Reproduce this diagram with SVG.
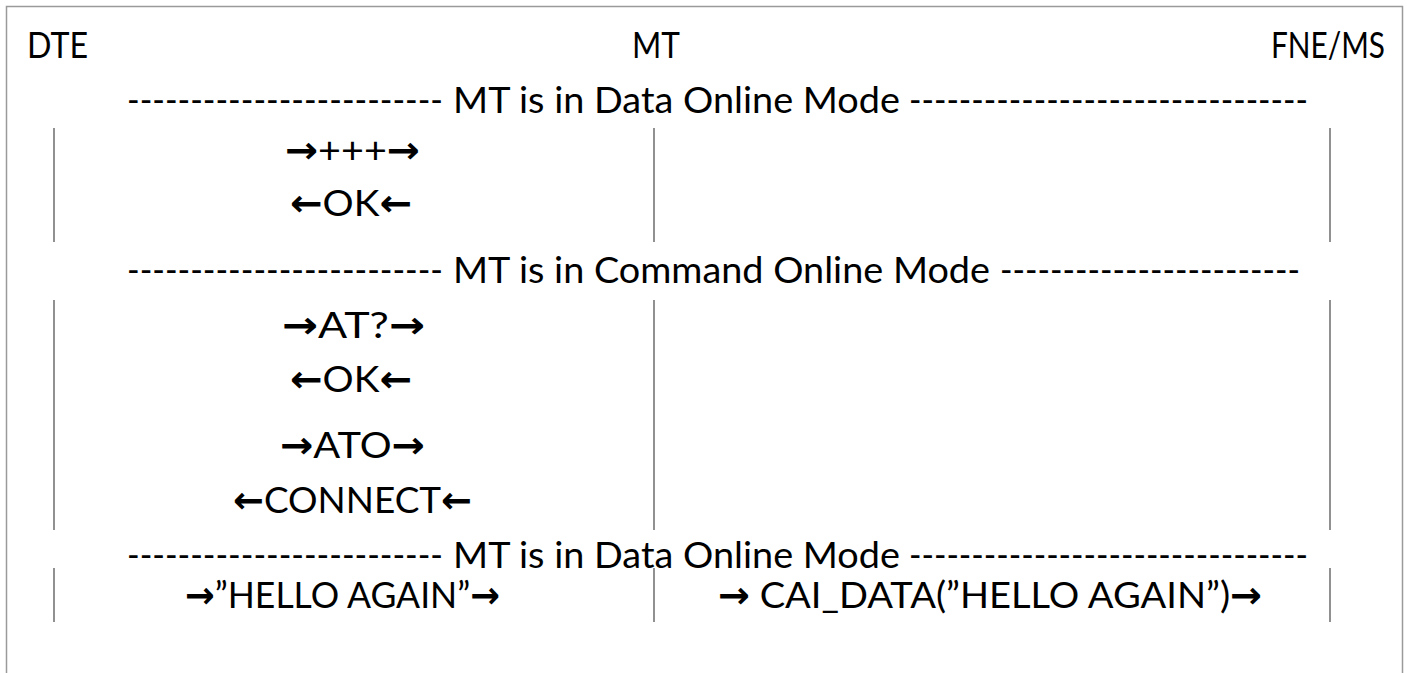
<svg xmlns="http://www.w3.org/2000/svg" width="1407" height="673" viewBox="0 0 1407 673">
  <style>
    .t { font-family: Lato, "Open Sans", "DejaVu Sans", sans-serif; font-size: 37px; fill: #000; }
    .a { font-family: "DejaVu Sans", sans-serif; font-weight: bold; }
    .life { stroke: #555; stroke-width: 1.3; fill: none; }
    .frame { stroke: #9a9a9a; stroke-width: 1.5; fill: #fff; }
  </style>
  <rect class="frame" x="6.5" y="6.5" width="1396" height="700"/>

  <g id="participants">
    <g id="p-dte"><text class="t" x="27" y="58" textLength="61" lengthAdjust="spacingAndGlyphs">DTE</text></g>
    <g id="p-mt"><text class="t" x="632" y="58" textLength="48" lengthAdjust="spacingAndGlyphs">MT</text></g>
    <g id="p-fne"><text class="t" x="1385" y="58" text-anchor="end" textLength="114" lengthAdjust="spacingAndGlyphs">FNE/MS</text></g>
  </g>

  <g id="connectors">
    <line class="life" x1="54" y1="128" x2="54" y2="242"/>
    <line class="life" x1="654" y1="128" x2="654" y2="242"/>
    <line class="life" x1="1330" y1="128" x2="1330" y2="242"/>
    <line class="life" x1="54" y1="300" x2="54" y2="530"/>
    <line class="life" x1="654" y1="300" x2="654" y2="530"/>
    <line class="life" x1="1330" y1="300" x2="1330" y2="530"/>
    <line class="life" x1="54" y1="568" x2="54" y2="622"/>
    <line class="life" x1="654" y1="568" x2="654" y2="622"/>
    <line class="life" x1="1330" y1="568" x2="1330" y2="622"/>
  </g>

  <g id="mode-1">
    <text class="t" x="127" y="113" textLength="316" lengthAdjust="spacingAndGlyphs">-------------------------</text>
    <text class="t" x="453" y="113" textLength="447" lengthAdjust="spacingAndGlyphs">MT is in Data Online Mode</text>
    <text class="t" x="909" y="113" textLength="399" lengthAdjust="spacingAndGlyphs">--------------------------------</text>
  </g>
  <g id="msg-plus"><text class="t" x="285" y="163" textLength="135" lengthAdjust="spacingAndGlyphs"><tspan class="a">→</tspan>+++<tspan class="a">→</tspan></text></g>
  <g id="msg-ok1"><text class="t" x="290" y="216" textLength="122" lengthAdjust="spacingAndGlyphs"><tspan class="a">←</tspan>OK<tspan class="a">←</tspan></text></g>

  <g id="mode-2">
    <text class="t" x="127" y="283" textLength="316" lengthAdjust="spacingAndGlyphs">-------------------------</text>
    <text class="t" x="453" y="283" textLength="537" lengthAdjust="spacingAndGlyphs">MT is in Command Online Mode</text>
    <text class="t" x="1000" y="283" textLength="300" lengthAdjust="spacingAndGlyphs">------------------------</text>
  </g>
  <g id="msg-at"><text class="t" x="282" y="338" textLength="143" lengthAdjust="spacingAndGlyphs"><tspan class="a">→</tspan>AT?<tspan class="a">→</tspan></text></g>
  <g id="msg-ok2"><text class="t" x="290" y="392" textLength="122" lengthAdjust="spacingAndGlyphs"><tspan class="a">←</tspan>OK<tspan class="a">←</tspan></text></g>
  <g id="msg-ato"><text class="t" x="280" y="458" textLength="145" lengthAdjust="spacingAndGlyphs"><tspan class="a">→</tspan>ATO<tspan class="a">→</tspan></text></g>
  <g id="msg-connect"><text class="t" x="233" y="513" textLength="239" lengthAdjust="spacingAndGlyphs"><tspan class="a">←</tspan>CONNECT<tspan class="a">←</tspan></text></g>

  <g id="mode-3">
    <text class="t" x="127" y="568" textLength="316" lengthAdjust="spacingAndGlyphs">-------------------------</text>
    <text class="t" x="453" y="568" textLength="447" lengthAdjust="spacingAndGlyphs">MT is in Data Online Mode</text>
    <text class="t" x="909" y="568" textLength="399" lengthAdjust="spacingAndGlyphs">--------------------------------</text>
  </g>
  <g id="msg-hello"><text class="t" x="185" y="608" textLength="315" lengthAdjust="spacingAndGlyphs"><tspan class="a">→</tspan>”HELLO AGAIN”<tspan class="a">→</tspan></text></g>
  <g id="msg-cai"><text class="t" x="718" y="608" textLength="544" lengthAdjust="spacingAndGlyphs"><tspan class="a">→</tspan> CAI_DATA(”HELLO AGAIN”)<tspan class="a">→</tspan></text></g>
</svg>
